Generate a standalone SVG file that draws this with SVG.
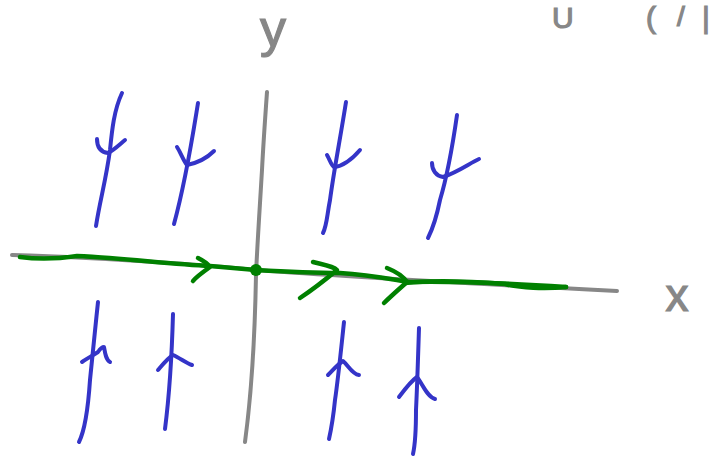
<svg xmlns="http://www.w3.org/2000/svg" width="712" height="465" viewBox="0 0 712 465">
<style>
.ax{fill:none;stroke:#878787;stroke-width:4;stroke-linecap:round;stroke-linejoin:round}
.bl{fill:none;stroke:#3434c8;stroke-width:4;stroke-linecap:round;stroke-linejoin:round}
.gr{fill:none;stroke:#008000;stroke-width:4.5;stroke-linecap:round;stroke-linejoin:round}
.lbl{fill:#878787;stroke:#878787;stroke-width:1.2;font-family:"Liberation Sans",Arial,sans-serif}
</style>
<rect width="712" height="465" fill="#ffffff"/>
<g id="top-text">
<text class="lbl" x="552" y="28" font-size="30">U</text>
<text class="lbl" x="646" y="28" font-size="30">(</text>
<text class="lbl" x="677" y="26" font-size="28">/</text>
<text class="lbl" x="702" y="28" font-size="30">|</text>
</g>
<g id="axes">
<path class="ax" d="M12,255 C120,258 240,268 256,270 C350,277 480,284 617,291"/>
<path class="ax" d="M267,92 C265,120 263,150 262,170 C259,220 257,250 256,275 C255,330 252,390 245,442"/>
</g>
<g id="label-y"><text class="lbl" x="273" y="46" font-size="52" text-anchor="middle">y</text></g>
<g id="label-x"><text class="lbl" x="677" y="311" font-size="46" text-anchor="middle">x</text></g>
<g id="connectors">
<path class="gr" d="M20,257 C35,259 50,260 77,256 C120,258 170,264 210,266 L256,270 C290,272 320,273 340,273 C370,275 390,279 410,282 C460,281 520,284 566,287"/>
<path class="gr" d="M405,283 C440,279 480,282 505,284 C520,288 545,289 566,287"/>
<path class="gr" d="M198,258 C204,261 208,264 210,267 C203,272 196,277 193,281"/>
<path class="gr" d="M313,262 C325,265 333,266 337,270 C325,280 312,290 300,298"/>
<path class="gr" d="M387,268 C397,272 403,276 407,282 C398,290 390,297 384,303"/>
<circle cx="256" cy="270" r="6" fill="#008000"/>
</g>
<g id="arrow-tl1">
<path class="bl" d="M122,93 C114,110 112,130 110,150 C106,180 100,200 96,226"/>
<path class="bl" d="M97,139 C97,147 100,152 108,153 C114,150 120,144 125,140"/>
</g>
<g id="arrow-tl2">
<path class="bl" d="M198,103 C192,140 186,180 174,224"/>
<path class="bl" d="M177,147 C181,153 183,160 187,165 C197,163 207,158 214,151"/>
</g>
<g id="arrow-tr1">
<path class="bl" d="M346,102 C340,140 334,170 330,200 C327,215 327,225 323,233"/>
<path class="bl" d="M327,155 C330,160 331,165 334,167 C345,166 354,157 360,150"/>
</g>
<g id="arrow-tr2">
<path class="bl" d="M457,115 C452,150 446,180 440,200 C436,220 432,230 428,238"/>
<path class="bl" d="M432,163 C432,170 436,176 443,177 C458,172 470,163 479,159"/>
</g>
<g id="arrow-bl1">
<path class="bl" d="M98,302 C95,330 92,360 90,380 C88,410 85,430 79,442"/>
<path class="bl" d="M82,362 C88,358 95,354 98,352 C100,349 102,347 104,347 C105,353 106,360 110,362"/>
</g>
<g id="arrow-bl2">
<path class="bl" d="M173,314 C172,350 170,390 165,429"/>
<path class="bl" d="M158,370 C164,363 168,358 173,355 C180,358 186,363 192,365"/>
</g>
<g id="arrow-br1">
<path class="bl" d="M344,322 C341,350 338,380 335,400 C333,420 331,430 329,439"/>
<path class="bl" d="M328,375 C333,370 338,364 343,361 C348,365 352,374 359,375"/>
</g>
<g id="arrow-br2">
<path class="bl" d="M419,328 C418,360 417,390 416,410 C416,430 415,445 413,454"/>
<path class="bl" d="M399,397 C405,389 411,381 417,377 C422,383 427,397 435,399"/>
</g>
</svg>
